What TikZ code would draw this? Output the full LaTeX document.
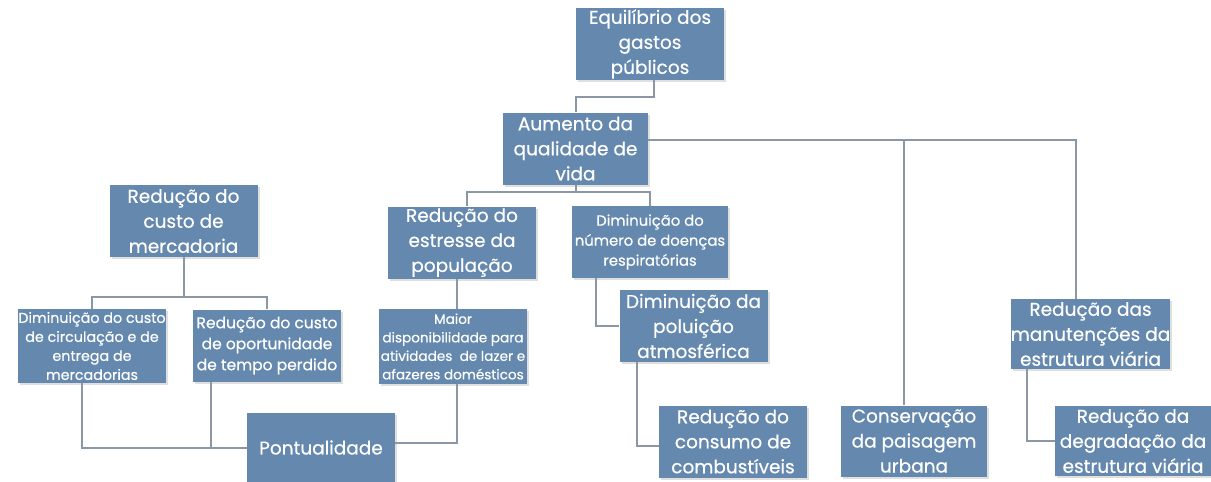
\documentclass[tikz,border=0pt]{standalone}
\usepackage{fontspec}
\setmainfont{Poppins}
\newfontfamily\boxfont{Poppins}[FakeBold=0.5]
\usetikzlibrary{shadows}
\definecolor{boxblue}{HTML}{6488AE}
\definecolor{linegray}{HTML}{8A97A4}
\begin{document}
\begin{tikzpicture}[x=1pt,y=-1pt,
    box/.style={fill=boxblue, text=white, align=center, inner sep=0pt,
      minimum width=148pt, minimum height=72pt,
      font=\boxfont\fontsize{18.5}{25}\selectfont,
      drop shadow={shadow xshift=2pt, shadow yshift=-2pt, opacity=0.25}},
    smallbox/.style={box, font=\boxfont\fontsize{14.3}{19}\selectfont},
    link/.style={draw=linegray, line width=2pt}]
  \useasboundingbox (0,0) rectangle (1211,482);
  \node[box] (eq-root) at (650,44) {Equilíbrio dos\\gastos\\públicos};
  \node[box, minimum width=145pt] (aum-vida) at (575.5,148.5) {Aumento da\\qualidade de\\vida};
  \node[box] (red-merc) at (183.5,221) {Redução do\\custo de\\mercadoria};
  \node[box] (red-estresse) at (462,242.5) {Redução do\\estresse da\\população};
  \node[smallbox, font=\boxfont\fontsize{14.8}{20}\selectfont, minimum width=156pt] (dim-doencas) at (650,242) {Diminuição do\\número de doenças\\respiratórias};
  \node[box] (dim-poluicao) at (693.5,326) {Diminuição da\\poluição\\atmosférica};
  \node[box, minimum width=157pt, minimum height=70pt] (red-manut) at (1090.5,334) {Redução das\\manutenções da\\estrutura viária};
  \node[smallbox, minimum height=74pt] (dim-circ) at (92,346) {Diminuição do custo\\de circulação e de\\entrega de\\mercadorias};
  \node[smallbox, font=\boxfont\fontsize{15.5}{21}\selectfont] (red-oport) at (267,345.5) {Redução do custo\\de oportunidade\\de tempo perdido};
  \node[smallbox, font=\boxfont\fontsize{13.6}{18.5}\selectfont, minimum height=75pt] (maior-disp) at (453,346.5) {Maior\\disponibilidade para\\atividades \ de lazer e\\afazeres domésticos};
  \node[box, minimum height=69pt] (pont) at (321,447.5) {Pontualidade};
  \node[box] (red-comb) at (733,441.5) {Redução do\\consumo de\\combustíveis};
  \node[box, minimum width=146pt, minimum height=71pt] (cons-pais) at (914,441) {Conservação\\da paisagem\\urbana};
  \node[box, minimum width=156pt, minimum height=70pt] (red-degr) at (1133,441) {Redução da\\degradação da\\estrutura viária};
  % connectors
  \draw[link] ([xshift=4pt]eq-root.south) -- ++(0,17) -| (aum-vida.north);
  \draw[link] (aum-vida.south) -- ++(0,7) coordinate (aum-bar);
  \draw[link] ([xshift=5pt]red-estresse.north) |- (aum-bar) -| (dim-doencas.north);
  \draw[link] ([yshift=8.5pt]aum-vida.east) -| ([xshift=-15pt]red-manut.north);
  \draw[link] (cons-pais.north -| 904,0) -- (904,140);
  \draw[link] (red-merc.south) -- ++(0,40) coordinate (merc-bar);
  \draw[link] (dim-circ.north) |- (merc-bar) -| (red-oport.north);
  \draw[link] ([xshift=-10pt]dim-circ.south) |- (pont.west);
  \draw[link] ([xshift=-56pt]red-oport.south) -- ([xshift=-56pt]red-oport.south |- pont.west);
  \draw[link] ([xshift=-5pt]red-estresse.south) -- ([xshift=4pt]maior-disp.north);
  \draw[link] ([xshift=4pt]maior-disp.south) |- ([yshift=5pt]pont.east);
  \draw[link] ([xshift=-54pt]dim-doencas.south) |- (dim-poluicao.west);
  \draw[link] ([xshift=-56.5pt]dim-poluicao.south) |- ([yshift=-4pt]red-comb.west);
  \draw[link] ([xshift=-63.5pt]red-manut.south) |- (red-degr.west);
\end{tikzpicture}
\end{document}
